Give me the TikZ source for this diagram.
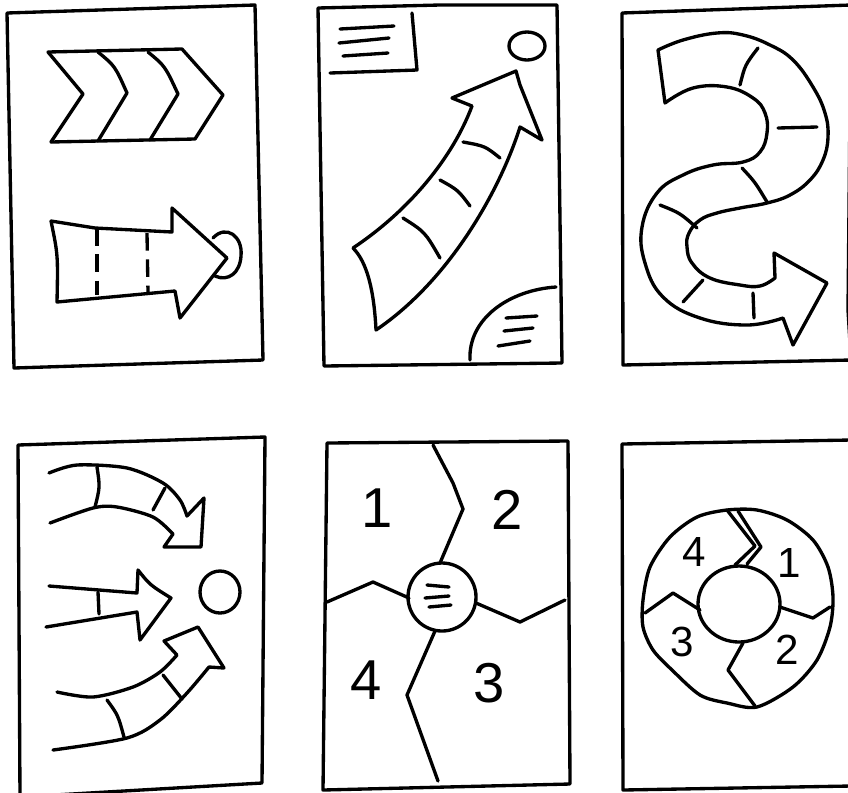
\documentclass[tikz,border=0pt]{standalone}
\usepackage{fontspec}
\setmainfont{Liberation Sans}
\begin{document}
\begin{tikzpicture}[x=0.02cm,y=-0.02cm,
  sketch/.style={line width=1.9pt,line cap=round,line join=round},
  dashline/.style={sketch,line cap=butt,dash pattern=on 10pt off 5pt},
  every node/.style={inner sep=0pt},
  bignum/.style={font=\fontsize{32}{32}\selectfont},
  smallnum/.style={font=\fontsize{24}{24}\selectfont}]
\useasboundingbox (0,0) rectangle (848,792);
\clip (0,0) rectangle (848,792);
% panel frames
\draw[sketch] (7,13) -- (255,5) -- (263,360) -- (14,368) -- cycle;
\draw[sketch] (318,8) -- (440,5) -- (557,5) -- (562,363) -- (324,366) -- cycle;
\draw[sketch] (851,5) -- (622,13) -- (623,365) -- (851,360) -- (848,310) -- cycle;
\draw[sketch] (18,445) -- (265,437) -- (262,783) -- (20,797) -- cycle;
\draw[sketch] (327,443) -- (568,441) -- (570,784) -- (323,790) -- cycle;
\draw[sketch] (851,440) -- (622,444) -- (623,790) -- (851,786);
% panel 1: chevrons and arrow
\draw[sketch] (48,52) -- (83,94) -- (51,142);
\draw[sketch] (48,52) -- (182,49) -- (223,95) -- (195,139) -- (51,142);
\draw[sketch] (98,52) .. controls (115,66) .. (127,93) -- (98,141);
\draw[sketch] (148,52) .. controls (165,66) .. (178,94) -- (150,140);
\draw[sketch] (51,221) -- (95,228) -- (172,232) -- (172,208) -- (227,258)
  -- (180,318) -- (175,291) -- (57,302) .. controls (58,255) .. (51,221);
\draw[dashline] (97,228) -- (97,295);
\draw[dashline] (147,233) -- (148,292);
\draw[sketch] (213,238) .. controls (226,224) and (243,236) .. (241,256)
  .. controls (240,273) and (228,282) .. (215,276);
% panel 2: rising arrow
\draw[sketch] (412,13) -- (417,70) -- (330,73);
\draw[sketch] (340,29) -- (394,26);
\draw[sketch] (339,43) -- (389,38);
\draw[sketch] (343,56) -- (388,53);
\draw[sketch] (527,46) ellipse [x radius=18,y radius=14];
\draw[sketch] (353,248) .. controls (410,210) and (453,157) .. (472,106)
  -- (452,98) -- (516,71) -- (520,85) -- (542,140) -- (520,127)
  .. controls (500,190) and (450,280) .. (376,330)
  .. controls (374,290) and (367,262) .. (353,248);
\draw[sketch] (463,142) .. controls (485,146) .. (500,158);
\draw[sketch] (440,180) .. controls (458,190) .. (470,206);
\draw[sketch] (403,218) .. controls (425,232) .. (440,258);
\draw[sketch] (470,360) .. controls (468,318) and (510,290) .. (556,287);
\draw[sketch] (506,318) -- (537,316);
\draw[sketch] (504,331) -- (533,328);
\draw[sketch] (498,346) -- (530,341);
% panel 3: winding arrow
\draw[sketch] plot[smooth,tension=.7] coordinates {(658,50) (683,40) (717,33)
  (743,35) (770,45) (793,60) (813,87) (825,113) (828,137) (823,160) (810,180)
  (790,195) (767,203) (740,208) (717,213) (700,220) (689,233) (687,247)
  (692,263) (710,278) (740,285) (760,286) (775,278)}
  -- (774,253) -- (827,283) -- (793,345) -- (783,318)
  -- plot[smooth,tension=.7] coordinates {(783,318) (747,325) (700,318)
  (663,297) (645,263) (642,227) (657,193) (683,175) (713,165) (743,162)
  (760,152) (767,133) (765,113) (753,98) (727,87) (693,88) (665,103)}
  -- cycle;
\draw[sketch] (758,48) .. controls (745,65) .. (740,85);
\draw[sketch] (778,128) -- (817,127);
\draw[sketch] (742,168) .. controls (755,182) .. (767,202);
\draw[sketch] (660,205) .. controls (680,213) .. (697,228);
\draw[sketch] (703,280) -- (683,302);
\draw[sketch] (753,293) -- (754,318);
% panel 4: three arrows to a goal
\draw[sketch] plot[smooth] coordinates {(49,473) (77,465) (127,468) (163,483)
  (180,500) (187,516)} -- (204,498) -- (201,547) -- (164,547) -- (173,534)
  -- plot[smooth] coordinates {(173,534) (153,517) (117,507) (93,508) (50,523)};
\draw[sketch] (97,467) .. controls (100,487) .. (95,507);
\draw[sketch] (165,488) -- (153,510);
\draw[sketch] (49,586) -- (137,593) -- (138,570) .. controls (150,585) .. (171,598)
  -- (140,640) -- (137,612) -- (46,627);
\draw[sketch] (98,592) -- (99,614);
\draw[sketch] plot[smooth] coordinates {(57,692) (93,697) (133,687) (160,672)
  (177,655)} -- (164,641) -- (198,627) -- (224,668) -- (209,667)
  -- plot[smooth] coordinates {(209,667) (187,693) (160,720) (127,738) (53,750)};
\draw[sketch] (163,675) -- (182,699);
\draw[sketch] (107,700) .. controls (118,715) .. (124,737);
\draw[sketch] (220,592) ellipse [x radius=20,y radius=21];
% panel 5: four quadrants
\draw[sketch] (442,597) circle [radius=34];
\draw[sketch] (433,445) -- (453,483) -- (463,509) -- (440,563);
\draw[sketch] (327,602) -- (373,582) -- (409,598);
\draw[sketch] (476,603) -- (520,622) -- (565,600);
\draw[sketch] (435,631) -- (407,695) -- (438,781);
\draw[sketch] (427,585) -- (449,587);
\draw[sketch] (425,598) -- (449,596);
\draw[sketch] (429,607) -- (451,605);
\node[bignum] (q1) at (377,508) {1};
\node[bignum] (q2) at (507,510) {2};
\node[bignum] (q4) at (366,680) {4};
\node[bignum] (q3) at (489,683) {3};
% panel 6: ring
\draw[sketch] plot[smooth cycle] coordinates {(727,510) (757,510) (787,520)
  (813,540) (828,567) (833,597) (830,627) (817,660) (793,687) (757,707)
  (727,703) (700,695) (672,670) (653,650) (643,627) (643,600) (650,567)
  (670,537) (697,517)};
\draw[sketch] (739,604) ellipse [x radius=41,y radius=38];
\draw[sketch] (727,510) -- (755,546) -- (735,565);
\draw[sketch] (738,511) -- (761,547) -- (747,564);
\draw[sketch] (780,607) -- (813,618) -- (830,607);
\draw[sketch] (743,643) -- (728,670) -- (755,706);
\draw[sketch] (645,613) -- (673,593) -- (700,610);
\node[smallnum] (r4) at (694,552) {4};
\node[smallnum] (r1) at (789,563) {1};
\node[smallnum] (r3) at (682,642) {3};
\node[smallnum] (r2) at (787,650) {2};
\end{tikzpicture}
\end{document}
